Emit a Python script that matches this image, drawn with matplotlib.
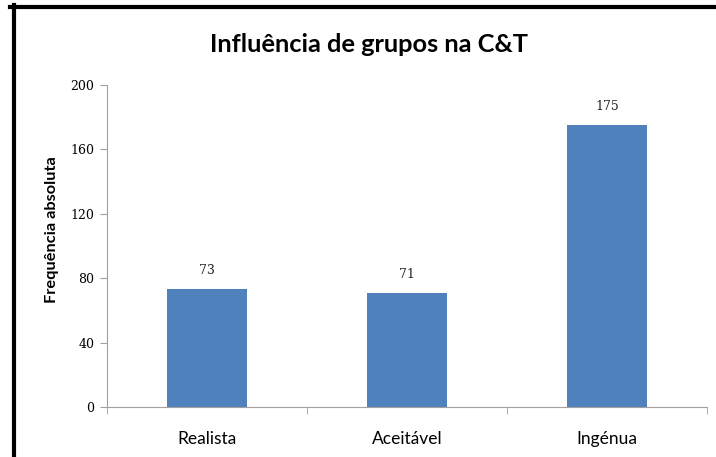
import numpy as np
import matplotlib.pyplot as plt
from matplotlib.lines import Line2D

categorias = ["Realista", "Aceitável", "Ingénua"]
valores = [73, 71, 175]
yticks = [0, 40, 80, 120, 160, 200]

fig = plt.figure(figsize=(7.16, 4.57), dpi=100)
ax = fig.add_axes([107/716, 1-407/457, 600/716, 322/457])

x = np.arange(len(categorias))
ax.bar(x, valores, width=0.4, color="#4F81BD")
for xi, v in zip(x, valores):
    ax.text(xi, v + 7.5, str(v), ha="center", va="bottom", fontsize=9,
            family="DejaVu Serif", color="#222222")

ax.set_xlim(-0.5, 2.5)
ax.set_ylim(0, 200)
ax.set_yticks(yticks)
ax.set_yticklabels([str(t) for t in yticks], family="DejaVu Serif", fontsize=9)
ax.set_xticks(x)
ax.set_xticklabels(categorias, family="Lato", fontsize=12.5)
ax.set_xticks([-0.5, 0.5, 1.5, 2.5], minor=True)
ax.tick_params(axis="x", which="major", length=0, pad=17)
ax.tick_params(axis="x", which="minor", length=5, color="#a0a0a0")
ax.tick_params(axis="y", length=5, color="#a0a0a0", pad=4)

for s in ["top", "right"]:
    ax.spines[s].set_visible(False)
for s in ["left", "bottom"]:
    ax.spines[s].set_color("#a0a0a0")

ax.set_ylabel("Frequência absoluta", family="Lato", fontweight="bold", fontsize=11.8)
ax.yaxis.set_label_coords(-48/600, (407-230)/322)
fig.text(369/716, 1-45/457, "Influência de grupos na C&T", ha="center", va="center",
         family="Lato", fontsize=18.3, fontweight="bold")

# moldura (só topo e esquerda visíveis)
fig.add_artist(Line2D([10/716, 1], [1-7/457, 1-7/457], color="black", lw=3,
                      transform=fig.transFigure))
fig.add_artist(Line2D([13.5/716, 13.5/716], [0, 1-5/457], color="black", lw=3,
                      transform=fig.transFigure))

plt.savefig("out.png", dpi=100)
